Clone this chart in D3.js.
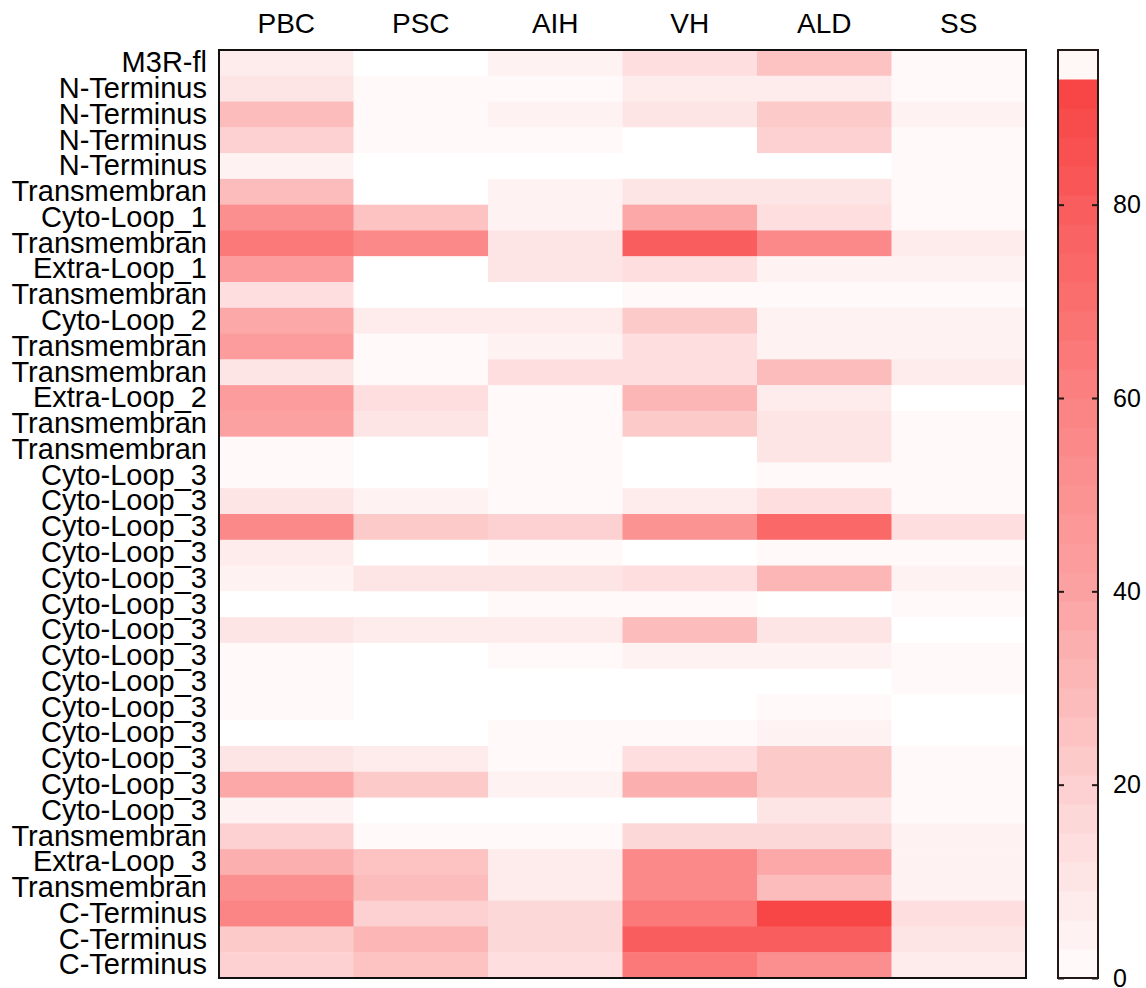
<!DOCTYPE html>
<html>
<head>
<meta charset="utf-8">
<script src="https://cdn.jsdelivr.net/npm/d3@7"></script>
<style>
  body { margin: 0; background: #fff; }
  svg { display: block; }
  text { font-family: "Liberation Sans", Arial, sans-serif; fill: #000; }
</style>
</head>
<body>
<svg id="chart" width="1146" height="988"></svg>
<script>
// Disease groups (columns)
const diseases = ["PBC", "PSC", "AIH", "VH", "ALD", "SS"];

// M3R peptide regions (rows, top to bottom)
const regions = [
  "M3R-fl", "N-Terminus", "N-Terminus", "N-Terminus", "N-Terminus",
  "Transmembran", "Cyto-Loop_1", "Transmembran", "Extra-Loop_1", "Transmembran",
  "Cyto-Loop_2", "Transmembran", "Transmembran", "Extra-Loop_2", "Transmembran",
  "Transmembran", "Cyto-Loop_3", "Cyto-Loop_3", "Cyto-Loop_3", "Cyto-Loop_3",
  "Cyto-Loop_3", "Cyto-Loop_3", "Cyto-Loop_3", "Cyto-Loop_3", "Cyto-Loop_3",
  "Cyto-Loop_3", "Cyto-Loop_3", "Cyto-Loop_3", "Cyto-Loop_3", "Cyto-Loop_3",
  "Transmembran", "Extra-Loop_3", "Transmembran", "C-Terminus", "C-Terminus",
  "C-Terminus"
];

// Reactivity per region for each disease (null = no signal)
const valuesPBC = [6, 10, 28, 18, 5, 29, 52, 63, 42, 14, 36, 42, 9, 43, 40, 1.5, 1.5, 10, 54, 7,
  5, null, 11, 0.5, 0.5, 2, null, 10, 36, 5, 18, 35, 51, 58, 21.5, 19];
const valuesPSC = [null, 1.5, 1.5, 1.5, null, null, 26, 55, null, null, 7, 1.5, 1.5, 14, 11.5, null, null, 5, 21, null,
  11.5, null, 7, null, null, null, null, 7, 21, null, 1.5, 25, 27.5, 19, 30, 26.5];
const valuesAIH = [3.5, 2.5, 5, 1.5, null, 3.5, 4, 9, 10, null, 6, 5.5, 12, 1.5, 2.5, 0.5, 0.5, 0.5, 19, 0.5,
  10, 2.5, 7, 0.5, null, null, 0.5, 0.5, 5, null, 2.5, 7, 7, 15, 15.5, 13];
const valuesVH = [13, 8, 11, null, null, 11, 38, 78, 13, 1.5, 23.5, 12.5, 13, 31, 21, null, null, 7, 50, null,
  12.5, 1.5, 27.5, 3.5, null, null, 1.5, 13, 34, null, 17, 55, 55, 64, 80, 65];
const valuesALD = [26, 6, 21, 18, null, 9, 14, 56, 5, 1.5, 5.5, 5, 27.5, 7, 9.5, 9, 2.5, 14, 73, 2.5,
  30, null, 10, 5.5, null, 2, 5.5, 23.5, 21, 10, 17, 37, 27.5, 91, 78, 53];
const valuesSS = [2, 1, 3, 2.5, 0.5, 0.5, 2.5, 8.5, 4, 0.5, 5.5, 3, 8.5, null, 2.5, 0.5, 0.5, 1.5, 13, 0.5,
  3, 1, null, 1.5, 0.5, null, null, 1.5, 1.5, 0.5, 3.5, 4.5, 3, 12, 11.5, 8];

// Colour bar ticks
const colorTicks = [0, 20, 40, 60, 80];

const series = [valuesPBC, valuesPSC, valuesAIH, valuesVH, valuesALD, valuesSS];

const cells = [];
series.forEach((vals, ci) => {
  vals.forEach((v, ri) => cells.push({ col: diseases[ci], row: ri, value: v }));
});

// Layout
const plot = { left: 219, right: 1026, top: 50, bottom: 978 };
const bar = { left: 1058, right: 1098 };

const x = d3.scaleBand().domain(diseases).range([plot.left, plot.right]);
const y = d3.scaleBand().domain(d3.range(regions.length)).range([plot.top, plot.bottom]);

// Stepped colour map: bands of width 3 from 0 to 96, topmost band near-white
const step = 3, vmax = 96;
const thresholds = d3.range(step, vmax, step);
const ramp = d3.scaleLinear()
  .domain([0, 20, 40, 60, 80, 93])
  .range(["#fffcfc", "#fdd0d0", "#fca2a2", "#fb8282", "#f95c5c", "#f84242"])
  .interpolate(d3.interpolateRgb);
const bandColors = d3.range(0, vmax, step).map((lo, i) =>
  i === thresholds.length ? "#fff8f6" : ramp(lo + step / 2));
const color = d3.scaleThreshold().domain(thresholds).range(bandColors);

const svg = d3.select("#chart");

// Heatmap cells
svg.append("g")
  .selectAll("rect")
  .data(cells)
  .join("rect")
  .attr("x", d => x(d.col))
  .attr("y", d => y(d.row))
  .attr("width", x.bandwidth() + 0.5)
  .attr("height", y.bandwidth() + 0.5)
  .attr("fill", d => d.value == null ? "#ffffff" : color(d.value));

// Frame
svg.append("rect")
  .attr("x", plot.left).attr("y", plot.top)
  .attr("width", plot.right - plot.left).attr("height", plot.bottom - plot.top)
  .attr("fill", "none").attr("stroke", "#111").attr("stroke-width", 2);

// Column labels
const topAxis = svg.append("g")
  .attr("transform", `translate(0,${plot.top})`)
  .call(d3.axisTop(x).tickSize(0).tickPadding(17));
topAxis.select(".domain").remove();
topAxis.selectAll("text").attr("font-size", 28).style("font-family", '"Liberation Sans", Arial, sans-serif');

// Row labels
const leftAxis = svg.append("g")
  .attr("transform", `translate(${plot.left},0)`)
  .call(d3.axisLeft(y).tickSize(0).tickPadding(12).tickFormat(i => regions[i]));
leftAxis.select(".domain").remove();
leftAxis.selectAll("text").attr("font-size", 29).style("font-family", '"Liberation Sans", Arial, sans-serif');

// Colour bar
const cy = d3.scaleLinear().domain([0, vmax]).range([plot.bottom, plot.top]);
const bands = d3.range(0, vmax, step);
svg.append("g")
  .selectAll("rect")
  .data(bands)
  .join("rect")
  .attr("x", bar.left)
  .attr("width", bar.right - bar.left)
  .attr("y", d => cy(d + step))
  .attr("height", d => cy(d) - cy(d + step) + 0.5)
  .attr("fill", d => color(d + step / 2));

svg.append("rect")
  .attr("x", bar.left).attr("y", plot.top)
  .attr("width", bar.right - bar.left).attr("height", plot.bottom - plot.top)
  .attr("fill", "none").attr("stroke", "#231815").attr("stroke-width", 2);

const barRight = svg.append("g")
  .attr("transform", `translate(${bar.right},0)`)
  .call(d3.axisRight(cy).tickValues(colorTicks).tickSizeInner(-6).tickSizeOuter(0).tickPadding(15));
barRight.select(".domain").remove();
barRight.selectAll("line").attr("stroke", "#231815").attr("stroke-width", 2);
barRight.selectAll("text").attr("font-size", 25).style("font-family", '"Liberation Sans", Arial, sans-serif');

const barLeft = svg.append("g")
  .attr("transform", `translate(${bar.left},0)`)
  .call(d3.axisLeft(cy).tickValues(colorTicks).tickSizeInner(-6).tickSizeOuter(0).tickFormat(""));
barLeft.select(".domain").remove();
barLeft.selectAll("line").attr("stroke", "#231815").attr("stroke-width", 2);
</script>
</body>
</html>
